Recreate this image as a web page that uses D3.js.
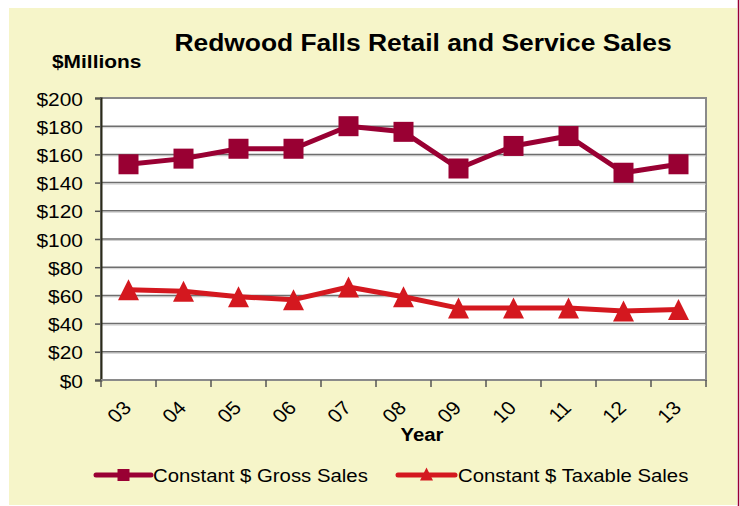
<!DOCTYPE html>
<html>
<head>
<meta charset="utf-8">
<script src="https://cdn.jsdelivr.net/npm/d3@7"></script>
<style>
  html, body { margin: 0; padding: 0; background: #ffffff; }
  svg { display: block; }
  text { font-family: "Liberation Sans", Arial, sans-serif; fill: #000; }
</style>
</head>
<body>
<svg id="chart" width="740" height="506"></svg>
<script>
const years = ["03", "04", "05", "06", "07", "08", "09", "10", "11", "12", "13"];
const grossSales = [153, 157, 164, 164, 180, 176, 150, 166, 173, 147, 153];
const taxableSales = [64, 63, 59, 57, 66, 59, 51, 51, 51, 49, 50];
const yTicks = [0, 20, 40, 60, 80, 100, 120, 140, 160, 180, 200];
const seriesNames = ["Constant $ Gross Sales", "Constant $ Taxable Sales"];
const titleText = "Redwood Falls Retail and Service Sales";
const yAxisTitle = "$Millions";
const xAxisTitle = "Year";

const W = 740, H = 506;
const SX = 1.1; // horizontal stretch of text
const grossColor = "#990033";
const taxColor = "#D4181F";
const svg = d3.select("#chart");

// backgrounds
svg.append("rect").attr("x", 0).attr("y", 0).attr("width", W).attr("height", H).attr("fill", "#ffffff");
svg.append("rect").attr("x", 9).attr("y", 8).attr("width", 728).attr("height", 497).attr("fill", "#F6F5C9");
svg.append("line").attr("x1", 738.5).attr("x2", 738.5).attr("y1", 0).attr("y2", H)
  .attr("stroke", grossColor).attr("stroke-width", 1.5);

const plot = { left: 101, right: 706, top: 98, bottom: 380 };
const x = d3.scaleBand().domain(years).range([plot.left, plot.right]).padding(0);
const y = d3.scaleLinear().domain([0, 200]).range([plot.bottom, plot.top]);

// plot area
svg.append("rect").attr("x", plot.left).attr("y", plot.top)
  .attr("width", plot.right - plot.left).attr("height", plot.bottom - plot.top)
  .attr("fill", "#ffffff").attr("stroke", "#8a8a8a").attr("stroke-width", 2);

// gridlines
const grid = svg.append("g");
yTicks.filter(t => t > 0 && t < 200).forEach(t => {
  grid.append("line").attr("x1", plot.left).attr("x2", plot.right)
    .attr("y1", y(t) + 1.5).attr("y2", y(t) + 1.5).attr("stroke", "#d0d0d0").attr("stroke-width", 1);
  grid.append("line").attr("x1", plot.left).attr("x2", plot.right)
    .attr("y1", y(t)).attr("y2", y(t)).attr("stroke", "#6e6e6e").attr("stroke-width", 1.5);
});

// y axis
const yAxis = d3.axisLeft(y).tickValues(yTicks).tickSize(6).tickPadding(0).tickFormat(d => "$" + d);
const gy = svg.append("g").attr("transform", `translate(${plot.left},0)`).call(yAxis);
gy.select(".domain").attr("stroke", "#2a2a1a").attr("stroke-width", 2);
gy.selectAll(".tick line").attr("stroke", "#555").attr("stroke-width", 1.5);
gy.selectAll(".tick text")
  .attr("x", null).attr("dy", null)
  .attr("transform", `translate(-18,7) scale(${SX},1)`)
  .attr("text-anchor", "end")
  .style("font-size", "19px").style("font-family", '"Liberation Sans", Arial, sans-serif');

// x axis: ticks at band boundaries
const gx = svg.append("g").attr("transform", `translate(0,${plot.bottom})`);
gx.append("line").attr("x1", plot.left).attr("x2", plot.right).attr("y1", 0).attr("y2", 0)
  .attr("stroke", "#8a8a8a").attr("stroke-width", 2);
const bounds = years.map(d => x(d)).concat([x(years[years.length - 1]) + x.bandwidth()]);
gx.selectAll("line.tk").data(bounds).enter().append("line").attr("class", "tk")
  .attr("x1", d => d).attr("x2", d => d).attr("y1", 0).attr("y2", 7)
  .attr("stroke", "#555").attr("stroke-width", 1.5);
gx.selectAll("text.xl").data(years).enter().append("text").attr("class", "xl")
  .attr("transform", d => `translate(${x(d) + x.bandwidth() / 2 + 4},29) scale(${SX},1) rotate(-45)`)
  .attr("text-anchor", "end")
  .style("font-size", "19px")
  .text(d => d);

// lines
const lineGen = d3.line().x((d, i) => x(years[i]) + x.bandwidth() / 2).y(d => y(d));
svg.append("path").datum(grossSales).attr("d", lineGen).attr("fill", "none")
  .attr("stroke", grossColor).attr("stroke-width", 5).attr("stroke-linejoin", "round");
svg.append("path").datum(taxableSales).attr("d", lineGen).attr("fill", "none")
  .attr("stroke", taxColor).attr("stroke-width", 5).attr("stroke-linejoin", "round");

// markers
svg.selectAll("rect.gm").data(grossSales).enter().append("rect").attr("class", "gm")
  .attr("x", (d, i) => x(years[i]) + x.bandwidth() / 2 - 10)
  .attr("y", d => y(d) - 10).attr("width", 20).attr("height", 20).attr("fill", grossColor);
const tri = (cx, cy, s) => `M${cx},${cy - s / 2}L${cx + s / 2},${cy + s / 2}L${cx - s / 2},${cy + s / 2}Z`;
svg.selectAll("path.tm").data(taxableSales).enter().append("path").attr("class", "tm")
  .attr("d", (d, i) => tri(x(years[i]) + x.bandwidth() / 2, y(d), 21)).attr("fill", taxColor);

// titles
svg.append("text").attr("transform", `translate(423,51) scale(${SX},1)`).attr("text-anchor", "middle")
  .style("font-size", "24px").style("font-weight", "bold").text(titleText);
svg.append("text").attr("transform", `translate(52,68) scale(${SX},1)`)
  .style("font-size", "19px").style("font-weight", "bold").text(yAxisTitle);
svg.append("text").attr("transform", `translate(422,441) scale(${SX},1)`).attr("text-anchor", "middle")
  .style("font-size", "18.5px").style("font-weight", "bold").text(xAxisTitle);

// legend
const legend = [
  { name: seriesNames[0], color: grossColor, x1: 96, x2: 151, tx: 153, shape: "square" },
  { name: seriesNames[1], color: taxColor, x1: 398, x2: 455, tx: 458, shape: "tri" }
];
const ly = 475;
legend.forEach(l => {
  svg.append("line").attr("x1", l.x1).attr("x2", l.x2).attr("y1", ly).attr("y2", ly)
    .attr("stroke", l.color).attr("stroke-width", 5).attr("stroke-linecap", "round");
  const cx = (l.x1 + l.x2) / 2;
  if (l.shape === "square") {
    svg.append("rect").attr("x", cx - 6).attr("y", ly - 6).attr("width", 12).attr("height", 12).attr("fill", l.color);
  } else {
    svg.append("path").attr("d", tri(cx, ly - 1, 13)).attr("fill", l.color);
  }
  svg.append("text").attr("transform", `translate(${l.tx},${ly + 7}) scale(${SX},1)`)
    .style("font-size", "18.5px").text(l.name);
});
</script>
</body>
</html>
